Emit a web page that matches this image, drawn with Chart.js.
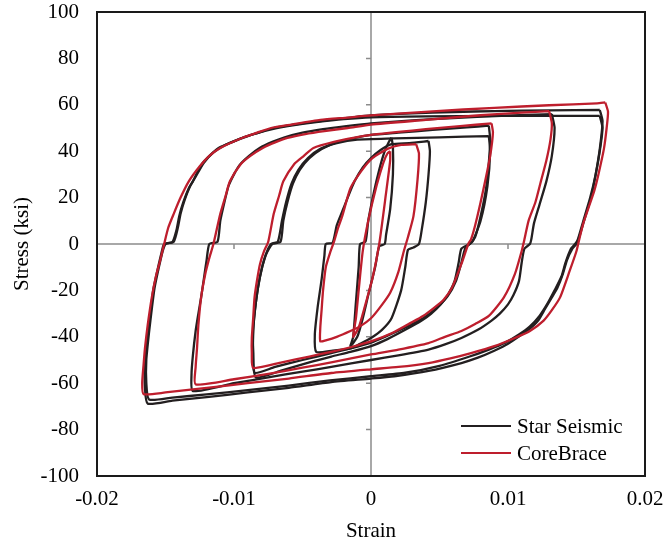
<!DOCTYPE html>
<html>
<head>
<meta charset="utf-8">
<script src="https://cdn.jsdelivr.net/npm/chart.js@4.4.1/dist/chart.umd.min.js"></script>
<style>
  html, body { margin: 0; padding: 0; background: #fff; }
</style>
</head>
<body>
<canvas id="myChart" width="663" height="550"></canvas>
<script>
// strain / stress (ksi) pairs, one closed cycle per array
const starLoop1 = [[0.0015,45.8],[0.0016,42],[0.0016,30],[0.0014,15],[0.0011,4],[0.0010,0],[0.0006,-1],[0.0003,-10],[-0.0002,-22],[-0.0006,-32],[-0.0010,-40],[-0.0015,-44],
  [-0.0013,-40],[-0.0011,-25],[-0.0009,-10],[-0.0008,0],[-0.0004,1],[-0.0002,10],[0.0002,22],[0.0006,32],[0.0010,40],[0.0013,44],[0.0015,45.8]];
const starLoop2 = [[0.0042,44.4],[0.0043,40],[0.0042,30],[0.0040,18],[0.0037,6],[0.0035,0],[0.0031,-1.5],[0.0027,-2.5],[0.0025,-10],[0.0022,-20],[0.0015,-32],[0.0008,-37],[0,-40.5],[-0.0008,-43],[-0.0015,-45],[-0.0028,-46],[-0.0040,-46.5],
  [-0.0041,-39],[-0.0039,-27.5],[-0.0036,-15],[-0.0034,-5],[-0.0033,0],[-0.0028,0.5],[-0.0025,8],[-0.0021,14],[-0.0017,20],[-0.0012,27],[-0.0006,33],[0,37],[0.0007,40.5],[0.0015,43],[0.0028,43.5],[0.0042,44.4]];
const starLoop3a = [[0.0086,46.5],[0.0087,40],[0.0085,25],[0.0080,10],[0.0074,1],[0.0069,-1.5],[0.0066,-8],[0.0062,-16],[0.0056,-22.5],[0.0048,-27.5],[0.0038,-32],[0.0025,-36],[0.0012,-39.5],[0,-42.5],[-0.0015,-45],[-0.0029,-47],[-0.0050,-50],[-0.0070,-53],[-0.0085,-55.5],
  [-0.0086,-47],[-0.0086,-37],[-0.0084,-25],[-0.0081,-14],[-0.0077,-5],[-0.0073,0],[-0.0068,1],[-0.0065,10],[-0.0062,18],[-0.0058,26],[-0.0053,32],[-0.0046,37],[-0.0037,41],[-0.0025,43.5],[-0.0010,45],[0.0017,45.5],[0.0050,46],[0.0086,46.5]];
const starLoop3 = [[0.0086,51],[0.0087,45],[0.0086,35],[0.0084,24],[0.0080,12],[0.0076,3],[0.0072,0],[0.0066,-2],[0.0064,-8],[0.0061,-16],[0.0056,-22],[0.0051,-26],[0.0044,-30],[0.0037,-33],[0.0025,-37],[0.0012,-41],[0,-44],[-0.0015,-46.5],[-0.0029,-48.5],[-0.0045,-51],[-0.0065,-54.5],[-0.0084,-57.5],
  [-0.0086,-48],[-0.0086,-37.5],[-0.0084,-25],[-0.0081,-14],[-0.0077,-5],[-0.0072,0],[-0.0066,1],[-0.0064,10],[-0.0061,18],[-0.0057,26],[-0.0052,32],[-0.0045,37],[-0.0036,41],[-0.0024,44],[-0.0010,46],[0,47],[0.0020,48],[0.0045,49.2],[0.0070,50.3],[0.0086,51]];
const starLoop4 = [[0.0132,56],[0.0134,50],[0.0132,38],[0.0128,27],[0.0123,17],[0.0119,9],[0.0117,2],[0.0116,0],[0.0112,-2],[0.0110,-8],[0.0108,-16],[0.0104,-22],[0.0100,-26],[0.0094,-30],[0.0088,-33],[0.0078,-37],[0.0066,-40.5],[0.0054,-43.3],[0.0042,-45.5],[0.0020,-48],[0,-50],[-0.0029,-53],[-0.0050,-55],[-0.0075,-57.5],[-0.0100,-60],[-0.0130,-63.4],
  [-0.0131,-56],[-0.0130,-48],[-0.0128,-37.5],[-0.0126,-30],[-0.0124,-23],[-0.0122,-15],[-0.0120,-7],[-0.0118,0],[-0.0112,1],[-0.0110,10],[-0.0107,18],[-0.0104,25],[-0.0100,30],[-0.0096,34],[-0.0089,38],[-0.0081,41.5],[-0.0072,44],[-0.0063,46],[-0.0050,48],[-0.0035,49.5],[-0.0018,50.8],[0,52],[0.0030,53.3],[0.0060,54.3],[0.0095,55.2],[0.0132,56]];
const starLoop5 = [[0.0167,57.8],[0.0169,53],[0.0167,41],[0.0164,30],[0.0161,21],[0.0156,11],[0.0152,3],[0.0150,0],[0.0147,-2],[0.0143,-7],[0.0140,-13],[0.0136,-19],[0.0132,-23],[0.0127,-28],[0.0122,-33],[0.0116,-36.5],[0.0110,-39],[0.0100,-43],[0.0090,-46],[0.0078,-49],[0.0066,-51.3],[0.0042,-54.7],[0.0017,-57],[0,-58],[-0.0029,-59.5],[-0.0060,-62],[-0.0090,-64],[-0.0120,-66],[-0.0145,-67.5],[-0.0163,-68.8],
  [-0.0165,-62],[-0.0165,-52],[-0.0163,-40],[-0.0161,-30],[-0.0159,-20],[-0.0156,-11.6],[-0.0153,-4],[-0.0151,0],[-0.0145,0.8],[-0.0142,6],[-0.0140,12],[-0.0137,18],[-0.0133,24],[-0.0130,27],[-0.0124,34],[-0.0117,38.5],[-0.0110,41.8],[-0.0101,44],[-0.0093,46],[-0.0082,48],[-0.0071,50],[-0.0058,51.3],[-0.0044,52.5],[-0.0030,53.5],[-0.0015,54.5],[0,55.4],[0.0030,56.3],[0.0060,56.9],[0.0090,57.3],[0.0130,57.6],[0.0167,57.8]];
const starLoop5b = [[0.0167,55.2],[0.0169,50],[0.0167,40],[0.0164,30],[0.0160,20],[0.0155,10],[0.0151,2],[0.0149,0],[0.0146,-2],[0.0142,-8],[0.0139,-14],[0.0134,-20],[0.0129,-25.5],[0.0123,-31],[0.0116,-35.5],[0.0108,-39],[0.0098,-42.5],[0.0086,-45.5],[0.0072,-48.5],[0.0050,-52.5],[0.0025,-55.5],[0,-57],[-0.0030,-58.8],[-0.0060,-61],[-0.0090,-63],[-0.0120,-64.8],[-0.0145,-66.2],[-0.0162,-67],
  [-0.0164,-60],[-0.0164,-50],[-0.0162,-38],[-0.0160,-28],[-0.0158,-19],[-0.0155,-10.5],[-0.0152,-3],[-0.0150,0],[-0.0144,1],[-0.0141,7],[-0.0139,13],[-0.0136,19],[-0.0132,25],[-0.0128,29],[-0.0122,35],[-0.0115,39.5],[-0.0107,42.5],[-0.0097,45],[-0.0085,47.5],[-0.0072,49.5],[-0.0056,51.2],[-0.0040,52.5],[-0.0020,53.8],[0,54.6],[0.0040,55],[0.0090,55.2],[0.0167,55.2]];

const coreLoop1 = [[0.0014,40],[0.0014,36],[0.0011,22],[0.0006,0],[0.0001,-15],[-0.0005,-28],[-0.0009,-36],[-0.0013,-40],
  [-0.0011,-32],[-0.0009,-20],[-0.0006,-3],[-0.0002,10],[0.0004,25],[0.0009,35],[0.0012,39],[0.0014,40]];
const coreLoop2 = [[0.0033,43],[0.0035,39],[0.0034,28],[0.0031,12],[0.0027,3],[0.0024,-3],[0.0020,-12],[0.0014,-21],[0.0007,-27],[0,-32],[-0.0008,-35.5],[-0.0015,-37.5],[-0.0025,-40],[-0.0033,-41.5],[-0.0037,-42],
  [-0.0037,-36],[-0.0036,-28],[-0.0035,-20],[-0.0033,-10],[-0.0030,-4],[-0.0027,1],[-0.0024,7],[-0.0021,12],[-0.0015,24],[-0.0007,31.5],[0.0001,37],[0.0012,41],[0.0022,42.7],[0.0033,43]];
const coreLoop3 = [[0.0088,52],[0.0089,48],[0.0087,38],[0.0084,29],[0.0080,18],[0.0076,8],[0.0073,2],[0.0071,0],[0.0066,-8.6],[0.0059,-19],[0.0053,-24],[0.0046,-27.5],[0.0038,-31],[0.0029,-34],[0.0015,-38.5],[0,-42],[-0.0015,-44.5],[-0.0029,-46.5],[-0.0045,-48.5],[-0.0065,-51],[-0.0086,-53.4],
  [-0.0087,-47],[-0.0087,-40.5],[-0.0086,-32],[-0.0085,-23],[-0.0083,-15],[-0.0081,-8.6],[-0.0078,-3],[-0.0075,1],[-0.0071,13],[-0.0067,21],[-0.0064,27],[-0.0056,34.5],[-0.0049,38],[-0.0042,41.4],[-0.0027,44],[-0.0012,45.8],[0,47],[0.0020,48.3],[0.0040,49.5],[0.0065,50.8],[0.0088,52]];
const coreLoop4 = [[0.0130,57.3],[0.0132,52],[0.0131,45],[0.0128,36],[0.0124,27],[0.0120,18],[0.0115,10],[0.0112,2],[0.0110,-3],[0.0105,-13],[0.0097,-23],[0.0086,-31],[0.0076,-34.5],[0.0066,-37.5],[0.0054,-40],[0.0042,-42.7],[0.0020,-45.5],[0,-47.6],[-0.0029,-51],[-0.0050,-53.3],[-0.0075,-56],[-0.0100,-58.3],[-0.0128,-60.5],
  [-0.0128,-53],[-0.0127,-45],[-0.0126,-35],[-0.0124,-23],[-0.0121,-13],[-0.0118,-6],[-0.0115,0],[-0.0110,13],[-0.0106,21],[-0.0103,27],[-0.0095,34.5],[-0.0088,38],[-0.0079,41.4],[-0.0070,43.8],[-0.0061,45.7],[-0.0048,47.4],[-0.0034,48.7],[-0.0017,50],[0,51.5],[0.0040,53.5],[0.0080,55.5],[0.0110,56.6],[0.0130,57.3]];
const coreLoop5 = [[0.0171,61],[0.0173,57],[0.0172,50],[0.0170,41],[0.0166,30],[0.0163,23],[0.0159,16],[0.0155,9],[0.0152,2],[0.0150,-3],[0.0145,-11.6],[0.0138,-23],[0.0132,-28.5],[0.0126,-33],[0.0116,-37.5],[0.0105,-40.5],[0.0090,-44],[0.0073,-47],[0.0058,-49.3],[0.0042,-51.3],[0.0020,-53],[0,-54],[-0.0029,-55.6],[-0.0060,-58],[-0.0090,-60],[-0.0120,-62],[-0.0150,-64],[-0.0166,-64.7],
  [-0.0167,-60],[-0.0166,-52],[-0.0165,-45],[-0.0163,-35],[-0.0160,-23],[-0.0157,-14],[-0.0154,-7.3],[-0.0151,0],[-0.0148,7],[-0.0144,13],[-0.0139,20],[-0.0133,27],[-0.0125,33.5],[-0.0118,38],[-0.0110,41.4],[-0.0095,45.5],[-0.0083,48],[-0.0073,50],[-0.0058,51.5],[-0.0037,53.5],[-0.0017,54.5],[0,55.4],[0.0045,57.2],[0.0090,58.7],[0.0130,59.8],[0.0165,60.6],[0.0171,61]];

const seriesNames = ['Star Seismic', 'CoreBrace'];
const seriesColors = ['#231f20', '#be1e2d'];
const xTickLabels = ['-0.02', '-0.01', '0', '0.01', '0.02'];
const yTickLabels = ['-100', '-80', '-60', '-40', '-20', '0', '20', '40', '60', '80', '100'];

const fontFamily = '"Liberation Serif", "Times New Roman", serif';

function loopDataset(loop, s) {
  return {
    label: seriesNames[s],
    data: loop.map(p => ({ x: p[0], y: p[1] })),
    showLine: true,
    borderColor: seriesColors[s],
    borderWidth: 2.3,
    pointRadius: 0,
    tension: 0.2,
    order: s === 0 ? 1 : 0
  };
}

const datasets = [
  ...[starLoop1, starLoop2, starLoop3a, starLoop3, starLoop4, starLoop5, starLoop5b].map(l => loopDataset(l, 0)),
  ...[coreLoop1, coreLoop2, coreLoop3, coreLoop4, coreLoop5].map(l => loopDataset(l, 1))
];

// zero axes with small tick marks, drawn under the loops
const zeroAxes = {
  id: 'zeroAxes',
  beforeDatasetsDraw(chart) {
    const { ctx, chartArea: a, scales: { x, y } } = chart;
    const x0 = x.getPixelForValue(0), y0 = y.getPixelForValue(0);
    ctx.save();
    ctx.strokeStyle = '#8c8c8c';
    ctx.lineWidth = 1.5;
    ctx.beginPath();
    ctx.moveTo(a.left, y0); ctx.lineTo(a.right, y0);
    ctx.moveTo(x0, a.top); ctx.lineTo(x0, a.bottom);
    [-0.01, 0.01].forEach(v => {
      const px = x.getPixelForValue(v);
      ctx.moveTo(px, y0); ctx.lineTo(px, y0 + 5);
    });
    [-80, -60, -40, -20, 20, 40, 60, 80].forEach(v => {
      const py = y.getPixelForValue(v);
      ctx.moveTo(x0, py); ctx.lineTo(x0 - 5, py);
    });
    ctx.stroke();
    ctx.restore();
  },
  afterDatasetsDraw(chart) {
    const { ctx, chartArea: a } = chart;
    ctx.save();
    ctx.strokeStyle = '#1a1a1a';
    ctx.lineWidth = 2;
    ctx.strokeRect(a.left, a.top, a.right - a.left, a.bottom - a.top);
    ctx.restore();
  }
};

// legend inside the lower right of the plot
const boxLegend = {
  id: 'boxLegend',
  afterDraw(chart) {
    const { ctx, chartArea: a } = chart;
    ctx.save();
    ctx.font = '21px ' + fontFamily;
    ctx.textBaseline = 'middle';
    ctx.fillStyle = '#000';
    seriesNames.forEach((name, i) => {
      const yy = a.bottom - 50 + i * 27;
      ctx.strokeStyle = seriesColors[i];
      ctx.lineWidth = 2;
      ctx.beginPath();
      ctx.moveTo(a.right - 184, yy); ctx.lineTo(a.right - 134, yy);
      ctx.stroke();
      ctx.fillText(name, a.right - 128, yy + 1);
    });
    ctx.restore();
  }
};

new Chart(document.getElementById('myChart'), {
  type: 'scatter',
  data: { datasets },
  options: {
    responsive: false,
    animation: false,
    layout: { padding: { left: 0, right: 18, top: 12, bottom: 0 } },
    plugins: { legend: { display: false }, tooltip: { enabled: false } },
    scales: {
      x: {
        type: 'linear', min: -0.02, max: 0.02,
        grid: { display: false, drawTicks: false },
        border: { display: false },
        ticks: {
          stepSize: 0.01, padding: 11, color: '#000',
          font: { family: fontFamily, size: 21 },
          callback: v => xTickLabels[Math.round(v * 100) + 2]
        },
        title: { display: true, text: 'Strain', color: '#000', font: { family: fontFamily, size: 21 }, padding: { top: 0, bottom: 6 } },
        afterFit: s => { s.height = 74; s.paddingLeft = 0; s.paddingRight = 0; }
      },
      y: {
        type: 'linear', min: -100, max: 100,
        grid: { display: false, drawTicks: false },
        border: { display: false },
        ticks: {
          stepSize: 20, padding: 18, color: '#000',
          font: { family: fontFamily, size: 21 },
          callback: v => yTickLabels[Math.round(v / 20) + 5]
        },
        title: { display: true, text: 'Stress (ksi)', color: '#000', font: { family: fontFamily, size: 21 }, padding: { top: 10, bottom: 0 } },
        afterFit: s => { s.width = 97; s.paddingTop = 0; s.paddingBottom = 0; }
      }
    }
  },
  plugins: [zeroAxes, boxLegend]
});
</script>
</body>
</html>
